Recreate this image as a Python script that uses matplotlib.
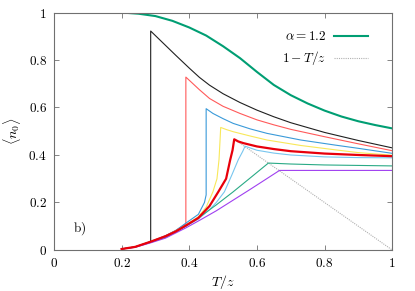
import matplotlib
matplotlib.use("Agg")
import matplotlib.pyplot as plt

plt.rcParams["mathtext.fontset"] = "cm"
plt.rcParams["font.family"] = "serif"
plt.rcParams["font.serif"] = ["DejaVu Serif"]

# reference curve alpha = 1.2
green_T = [0.2, 0.25, 0.3, 0.35, 0.4, 0.45, 0.5, 0.55, 0.6, 0.65, 0.7, 0.75, 0.8, 0.85, 0.9, 0.95, 1.0]
green_n = [1.0, 0.995, 0.985, 0.965, 0.937, 0.903, 0.858, 0.808, 0.75, 0.695, 0.652, 0.617, 0.587, 0.562, 0.542, 0.526, 0.512]

# line 1 - T/z
line_T = [0.533, 1.0]
line_n = [0.467, 0.0]

# family of curves (lower branch, jump, upper branch)
black_T = [0.2, 0.24, 0.286, 0.286, 0.36, 0.4, 0.43, 0.46, 0.5, 0.55, 0.6, 0.65, 0.7, 0.8, 0.9, 1.0]
black_n = [0.004, 0.013, 0.035, 0.922, 0.82, 0.766, 0.727, 0.694, 0.658, 0.621, 0.589, 0.561, 0.536, 0.495, 0.461, 0.43]

salmon_T = [0.2, 0.24, 0.286, 0.33, 0.36, 0.39, 0.39, 0.43, 0.46, 0.5, 0.55, 0.6, 0.65, 0.7, 0.8, 0.9, 1.0]
salmon_n = [0.004, 0.013, 0.035, 0.06, 0.082, 0.11, 0.728, 0.675, 0.638, 0.605, 0.575, 0.548, 0.527, 0.508, 0.477, 0.447, 0.418]

blue_T = [0.2, 0.24, 0.286, 0.33, 0.36, 0.397, 0.427, 0.445, 0.45, 0.45, 0.47, 0.5, 0.53, 0.58, 0.63, 0.73, 0.83, 0.9, 1.0]
blue_n = [0.004, 0.013, 0.035, 0.06, 0.082, 0.12, 0.15, 0.2, 0.232, 0.595, 0.575, 0.553, 0.533, 0.51, 0.491, 0.463, 0.442, 0.428, 0.407]

yellow_T = [0.2, 0.24, 0.286, 0.33, 0.36, 0.39, 0.427, 0.45, 0.47, 0.482, 0.488, 0.491, 0.493, 0.51, 0.53, 0.58, 0.63, 0.73, 0.83, 0.9, 1.0]
yellow_n = [0.004, 0.013, 0.035, 0.058, 0.08, 0.105, 0.14, 0.18, 0.245, 0.3, 0.38, 0.46, 0.516, 0.507, 0.498, 0.48, 0.463, 0.44, 0.422, 0.41, 0.399]

red_T = [0.2, 0.24, 0.286, 0.33, 0.36, 0.39, 0.427, 0.46, 0.486, 0.509, 0.521, 0.528, 0.533, 0.545, 0.56, 0.6, 0.65, 0.7, 0.8, 0.9, 1.0]
red_n = [0.004, 0.013, 0.035, 0.058, 0.078, 0.103, 0.135, 0.185, 0.245, 0.3, 0.379, 0.42, 0.466, 0.457, 0.45, 0.436, 0.425, 0.416, 0.406, 0.4, 0.395]

sky_T = [0.2, 0.24, 0.286, 0.33, 0.36, 0.39, 0.427, 0.46, 0.48, 0.504, 0.526, 0.545, 0.558, 0.565, 0.6, 0.65, 0.7, 0.8, 0.9, 1.0]
sky_n = [0.004, 0.013, 0.034, 0.057, 0.077, 0.1, 0.13, 0.17, 0.2, 0.245, 0.316, 0.38, 0.415, 0.437, 0.42, 0.408, 0.4, 0.392, 0.389, 0.388]

teal_T = [0.2, 0.24, 0.286, 0.33, 0.39, 0.432, 0.48, 0.53, 0.58, 0.634, 0.7, 0.8, 0.9, 1.0]
teal_n = [0.004, 0.012, 0.032, 0.053, 0.1, 0.14, 0.19, 0.245, 0.303, 0.366, 0.362, 0.358, 0.356, 0.354]

purple_T = [0.2, 0.24, 0.286, 0.33, 0.39, 0.432, 0.48, 0.53, 0.58, 0.629, 0.667, 1.0]
purple_n = [0.004, 0.011, 0.03, 0.05, 0.093, 0.126, 0.165, 0.21, 0.255, 0.3, 0.335, 0.335]

ticks = [0, 0.2, 0.4, 0.6, 0.8, 1]
tick_labels = ["$0$", "$0.2$", "$0.4$", "$0.6$", "$0.8$", "$1$"]

fig = plt.figure(figsize=(4.15, 2.91), dpi=100)
ax = fig.add_axes([0.130, 0.141, 0.815, 0.816])

ax.plot(line_T, line_n, color="#b0b0b0", lw=0.8, ls=(0, (1, 1)), label="$1 - T/z$")
ax.plot(black_T, black_n, color="#202020", lw=0.8)
ax.plot(salmon_T, salmon_n, color="#ff5a5a", lw=0.8)
ax.plot(blue_T, blue_n, color="#3a9ad9", lw=0.8)
ax.plot(yellow_T, yellow_n, color="#f8e85a", lw=0.8)
ax.plot(sky_T, sky_n, color="#78c6ef", lw=0.8)
ax.plot(teal_T, teal_n, color="#2aaa86", lw=0.8)
ax.plot(purple_T, purple_n, color="#a040f0", lw=0.8)
ax.plot(red_T, red_n, color="#e8000b", lw=1.6)
ax.plot(green_T, green_n, color="#009e73", lw=1.5, label=r"$\alpha = 1.2$")

ax.set_xlim(0, 1)
ax.set_ylim(0, 1)
ax.set_xticks(ticks)
ax.set_xticklabels(tick_labels)
ax.set_yticks(ticks)
ax.set_yticklabels(tick_labels)
ax.tick_params(direction="in", length=3.5, width=0.6, color="#707070",
               top=True, right=True, labelsize=9.5, pad=5)
for side in ax.spines.values():
    side.set_color("#707070")
    side.set_linewidth(0.8)

ax.set_xlabel("$T/z$", fontsize=10, labelpad=2)
ax.set_ylabel(r"$\langle n_0 \rangle$", fontsize=10, labelpad=4)
ax.text(0.055, 0.09, r"$\mathrm{b)}$", fontsize=9.5, va="center")

handles, labels = ax.get_legend_handles_labels()
ax.legend(handles[::-1], labels[::-1], loc="upper right", bbox_to_anchor=(0.965, 0.975),
          frameon=False, markerfirst=False, handlelength=2.6, fontsize=9.5,
          labelspacing=0.45, handletextpad=0.6)

fig.savefig("out.png", dpi=100)
